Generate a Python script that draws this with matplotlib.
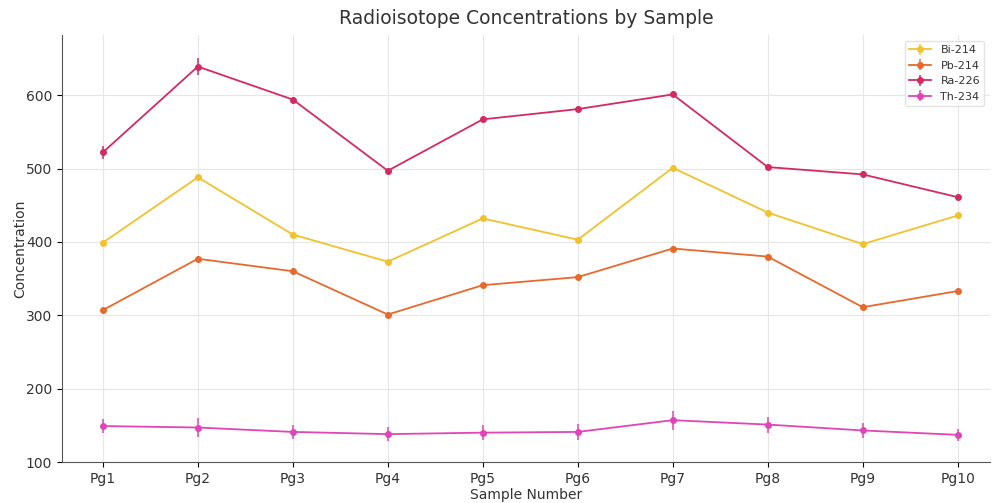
import matplotlib
matplotlib.use("Agg")
import matplotlib.pyplot as plt
import numpy as np

samples = ["Pg1", "Pg2", "Pg3", "Pg4", "Pg5", "Pg6", "Pg7", "Pg8", "Pg9", "Pg10"]
bi214 = [399, 488, 410, 373, 432, 403, 501, 440, 397, 436]
bi214_err = [3, 4, 3, 3, 3, 3, 4, 3, 3, 3]
pb214 = [307, 377, 360, 301, 341, 352, 391, 380, 311, 333]
pb214_err = [3, 4, 3, 3, 3, 3, 3, 3, 3, 3]
ra226 = [522, 639, 594, 497, 567, 581, 601, 502, 492, 461]
ra226_err = [9, 12, 4, 4, 4, 4, 4, 4, 4, 4]
th234 = [149, 147, 141, 138, 140, 141, 157, 151, 143, 137]
th234_err = [10, 13, 10, 10, 10, 11, 13, 11, 10, 8]

series = [
    ("Bi-214", bi214, bi214_err, "#f2c12e"),
    ("Pb-214", pb214, pb214_err, "#e8692c"),
    ("Ra-226", ra226, ra226_err, "#d42a62"),
    ("Th-234", th234, th234_err, "#e045b8"),
]

fig = plt.figure(figsize=(9.93, 5.03), dpi=100)
ax = fig.add_axes([62/993, 41/503, (990-62)/993, (462-35)/503])
x = np.arange(len(samples))
for name, vals, err, col in series:
    ax.errorbar(x, vals, yerr=err, label=name, color=col, marker='o',
                markersize=4, linewidth=1.3, elinewidth=1.1, capsize=0)

ax.set_xticks(x)
ax.set_xticklabels(samples, fontsize=10, color="#333333")
ax.set_yticks([100, 200, 300, 400, 500, 600])
ax.tick_params(axis='y', labelsize=10, labelcolor="#333333")
ax.set_xlim(-0.43, 9.34)
ax.set_ylim(100, 682)
ax.grid(True, color="#e6e6e6", linewidth=0.8)
ax.set_axisbelow(True)
for s in ["top", "right"]:
    ax.spines[s].set_visible(False)
for s in ["left", "bottom"]:
    ax.spines[s].set_color("#555555")
ax.set_xlabel("Sample Number", fontsize=10, color="#333333", labelpad=2)
ax.set_ylabel("Concentration", fontsize=10, color="#333333", labelpad=-1)
ax.set_title("Radioisotope Concentrations by Sample", fontsize=13.5, color="#333333", pad=8)
leg = ax.legend(loc="upper right", fontsize=8, framealpha=0.8, edgecolor="#dddddd")
for t in leg.get_texts():
    t.set_color("#333333")
fig.savefig("out.png", dpi=100)
